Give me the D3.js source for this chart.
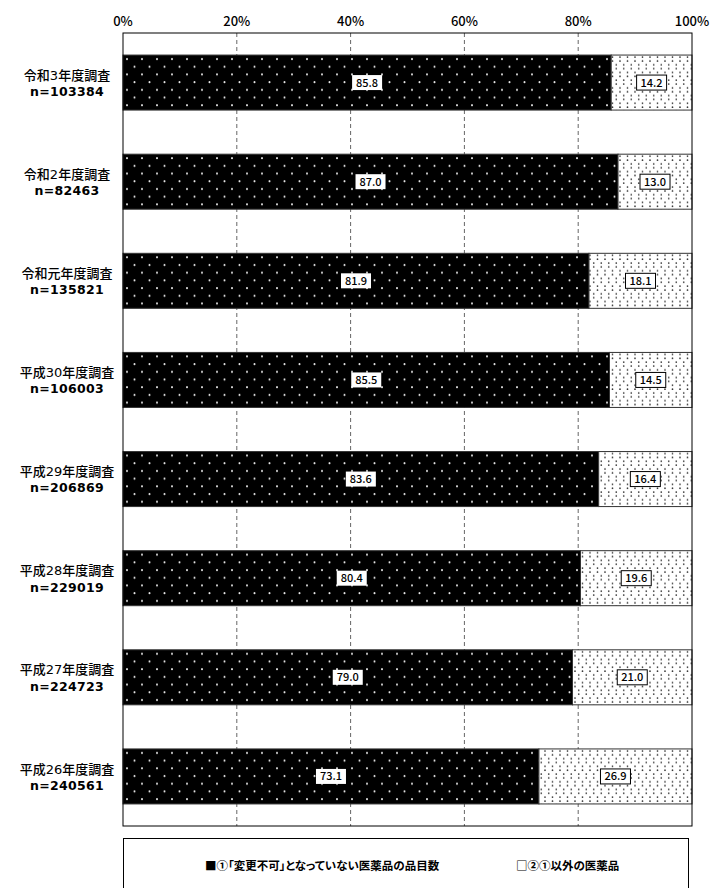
<!DOCTYPE html>
<html>
<head>
<meta charset="utf-8">
<script src="https://cdn.jsdelivr.net/npm/d3@7"></script>
<style>
  body { margin: 0; background: #fff; }
  text { font-family: "Noto Sans CJK JP", "Noto Sans", sans-serif; }
  .cat text { font-family: "DejaVu Sans", "Noto Sans CJK JP", sans-serif; }
  .legend text { font-feature-settings: "palt"; }
</style>
</head>
<body>
<div id="chart"></div>
<script>
var surveys = ["令和3年度調査", "令和2年度調査", "令和元年度調査", "平成30年度調査", "平成29年度調査", "平成28年度調査", "平成27年度調査", "平成26年度調査"];
var counts = ["n=103384", "n=82463", "n=135821", "n=106003", "n=206869", "n=229019", "n=224723", "n=240561"];
var notChangeable = [85.8, 87.0, 81.9, 85.5, 83.6, 80.4, 79.0, 73.1];
var others = [14.2, 13.0, 18.1, 14.5, 16.4, 19.6, 21.0, 26.9];
var ticks = [0, 20, 40, 60, 80, 100];
var legendLabels = ["■①「変更不可」となっていない医薬品の品目数", "□②①以外の医薬品"];

var margin = {top: 33, right: 20, bottom: 62, left: 123},
    width = 712 - margin.left - margin.right,
    height = 888 - margin.top - margin.bottom;

var svg = d3.select("#chart").append("svg")
    .attr("width", 712)
    .attr("height", 888);

var defs = svg.append("defs");
var p1 = defs.append("pattern").attr("id", "darkdots")
    .attr("patternUnits", "userSpaceOnUse").attr("width", 15).attr("height", 15.4);
p1.append("rect").attr("width", 15).attr("height", 15.4).attr("fill", "#000");
p1.append("circle").attr("cx", 4).attr("cy", 4).attr("r", 1).attr("fill", "#e6e6e6");
p1.append("circle").attr("cx", 11.5).attr("cy", 11.7).attr("r", 1).attr("fill", "#e6e6e6");

var p2 = defs.append("pattern").attr("id", "lightdots")
    .attr("patternUnits", "userSpaceOnUse").attr("width", 15).attr("height", 15.4);
p2.append("rect").attr("width", 15).attr("height", 15.4).attr("fill", "#fff");
[[2, 2], [9.5, 2], [5.75, 9.7], [13.25, 9.7], [2, 6], [9.5, 6], [5.75, 13.5], [13.25, 13.5]].forEach(function(d) {
  p2.append("circle").attr("cx", d[0]).attr("cy", d[1]).attr("r", 0.85).attr("fill", "#333");
});

var g = svg.append("g").attr("transform", "translate(" + margin.left + "," + margin.top + ")");

var x = d3.scaleLinear().domain([0, 100]).range([0, width]);
var y = d3.scaleBand().domain(surveys).range([0, height]).paddingInner(0.445).paddingOuter(0.2225);

// grid
g.selectAll(".grid").data(ticks.slice(1, -1)).enter().append("line")
    .attr("x1", function(d) { return x(d); }).attr("x2", function(d) { return x(d); })
    .attr("y1", 0).attr("y2", height)
    .attr("stroke", "#666").attr("stroke-width", 1).attr("stroke-dasharray", "4,3");

// top axis labels
g.selectAll(".tick-label").data(ticks).enter().append("text")
    .attr("x", function(d) { return x(d); })
    .attr("y", -7)
    .attr("text-anchor", "middle")
    .attr("font-size", 13)
    .attr("font-weight", 500)
    .text(function(d) { return d + "%"; });

// bars
var rows = g.selectAll(".row").data(surveys).enter().append("g")
    .attr("transform", function(d) { return "translate(0," + y(d) + ")"; });

rows.append("rect")
    .attr("x", 0)
    .attr("width", function(d, i) { return x(notChangeable[i]); })
    .attr("height", y.bandwidth())
    .attr("fill", "url(#darkdots)")
    .attr("stroke", "#333").attr("stroke-width", 1);

rows.append("rect")
    .attr("x", function(d, i) { return x(notChangeable[i]); })
    .attr("width", function(d, i) { return x(100) - x(notChangeable[i]); })
    .attr("height", y.bandwidth())
    .attr("fill", "url(#lightdots)")
    .attr("stroke", "#333").attr("stroke-width", 1);

// value labels
function addLabel(sel, cxFn, valFn, border) {
  var lg = sel.append("g").attr("transform", function(d, i) {
    return "translate(" + cxFn(i) + "," + (y.bandwidth() / 2) + ")";
  });
  lg.append("rect")
    .attr("x", -15).attr("y", -7.5).attr("width", 30).attr("height", 15)
    .attr("fill", "#fff")
    .attr("stroke", border ? "#000" : "none").attr("stroke-width", 1);
  lg.append("text")
    .attr("text-anchor", "middle").attr("dy", "0.36em")
    .attr("font-size", 11).attr("font-weight", 500)
    .text(function(d, i) { return valFn(i).toFixed(1); });
}
addLabel(rows, function(i) { return x(notChangeable[i] / 2); }, function(i) { return notChangeable[i]; }, false);
addLabel(rows, function(i) { return x(notChangeable[i] + others[i] / 2); }, function(i) { return others[i]; }, true);

// frame
g.append("rect").attr("width", width).attr("height", height)
    .attr("fill", "none").attr("stroke", "#000").attr("stroke-width", 1);

// category labels
var cat = svg.append("g").attr("class", "cat").selectAll("text").data(surveys).enter().append("text")
    .attr("text-anchor", "middle")
    .attr("font-size", 13).attr("font-weight", 500)
    .attr("transform", function(d) { return "translate(67," + (margin.top + y(d) + y.bandwidth() / 2) + ")"; });
cat.append("tspan").attr("x", 0).attr("dy", "-0.22em").text(function(d) { return d; });
cat.append("tspan").attr("x", 0).attr("dy", "1.3em")
    .attr("font-size", 12.5).attr("font-weight", 700).attr("letter-spacing", 0.3)
    .text(function(d, i) { return counts[i]; });

// legend
var leg = svg.append("g").attr("class", "legend");
leg.append("rect").attr("x", 123.5).attr("y", 838.5).attr("width", 565).attr("height", 60)
    .attr("fill", "#fff").attr("stroke", "#000");
leg.selectAll("text").data(legendLabels).enter().append("text")
    .attr("x", function(d, i) { return i === 0 ? 205 : 516; })
    .attr("y", 870)
    .attr("font-size", 11.5).attr("font-weight", 600)
    .text(function(d) { return d; });
</script>
</body>
</html>
